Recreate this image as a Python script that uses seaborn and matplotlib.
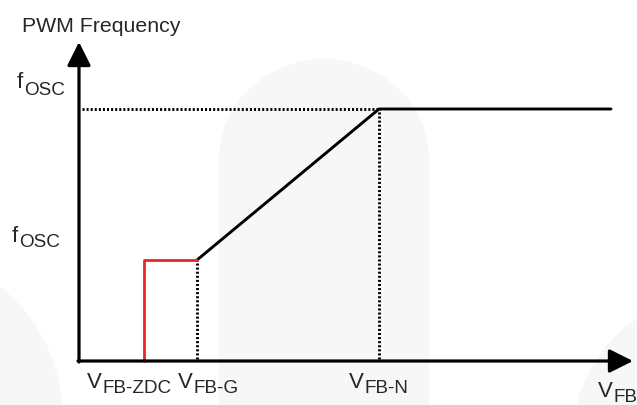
import numpy as np
import pandas as pd
import matplotlib
matplotlib.use("Agg")
import matplotlib.pyplot as plt
import seaborn as sns
from matplotlib.patches import Circle, Ellipse, Rectangle

# feedback voltage thresholds (arbitrary units, origin at the axes corner)
v_names = ["FB-ZDC", "FB-G", "FB-N"]
v_values = [65, 118, 300]
v_end = 532
# frequency levels
f_low = 101
f_osc = 252

# piecewise PWM frequency curve
curve_x = [v_values[1], v_values[2], v_end]
curve_y = [f_low, f_osc, f_osc]
# red zero-duty-cycle segment
zdc_x = [v_values[0], v_values[0], v_values[1]]
zdc_y = [0, f_low, f_low]

sns.set_theme(style="white")
plt.rcParams["font.family"] = ["Liberation Sans", "DejaVu Sans"]

fig = plt.figure(figsize=(6.37, 4.06), dpi=100)
ax = fig.add_axes([0, 0, 1, 1])

# faint watermark shapes in the background
wm = "#f7f7f7"
ax.add_patch(Ellipse((245, 202), 210, 200, color=wm, zorder=0, lw=0))
ax.add_patch(Rectangle((140, -44), 210, 246, color=wm, zorder=0, lw=0))
ax.add_patch(Circle((-179, -53), 162, color=wm, zorder=0, lw=0))
ax.add_patch(Circle((641, -78), 147, color=wm, zorder=0, lw=0))

# axes with arrow heads
arrow = dict(arrowstyle="-|>,head_length=1.2,head_width=0.6", color="black",
             lw=2.3, shrinkA=0, shrinkB=0)
ax.annotate("", xy=(554, 0), xytext=(-1, 0), arrowprops=arrow, zorder=5)
ax.annotate("", xy=(0, 319), xytext=(0, -1), arrowprops=arrow, zorder=5)

# dotted guides
dots = dict(color="black", lw=2.1, ls=(0, (0.7, 0.7)), zorder=2)
ax.plot([3, v_values[2]], [f_osc, f_osc], **dots)
ax.plot([v_values[2], v_values[2]], [2, f_osc], **dots)
ax.plot([v_values[1], v_values[1]], [2, f_low], **dots)

df_curve = pd.DataFrame({"v": curve_x, "f": curve_y})
df_zdc = pd.DataFrame({"v": zdc_x, "f": zdc_y})
sns.lineplot(data=df_curve, x="v", y="f", sort=False, estimator=None,
             color="black", lw=2.1, ax=ax, zorder=3)
sns.lineplot(data=df_zdc, x="v", y="f", sort=False, estimator=None,
             color="#e8262a", lw=2.0, ax=ax, zorder=3)
ax.set_xlim(-79, 558)
ax.set_ylim(-44, 362)
ax.axis("off")


def sublabel(x, y, main, sub, drop=-4):
    t = ax.text(x, y, main, fontsize=16, va="baseline", ha="left")
    ax.annotate(sub, xy=(1, 0), xycoords=t, xytext=(1, drop),
                textcoords="offset pixels", fontsize=13.6, va="bottom", ha="left")


ax.text(-57, 330, "PWM Frequency", fontsize=15.3, va="baseline")
sublabel(-62, 274, "f", "OSC", drop=-6)
sublabel(-67, 120, "f", "OSC", drop=-4)

label_x = [8, 99, 270]
for name, lx in zip(v_names, label_x):
    sublabel(lx, -26, "V", name)
sublabel(519, -35, "V", "FB")

fig.savefig("out.png", dpi=100)
